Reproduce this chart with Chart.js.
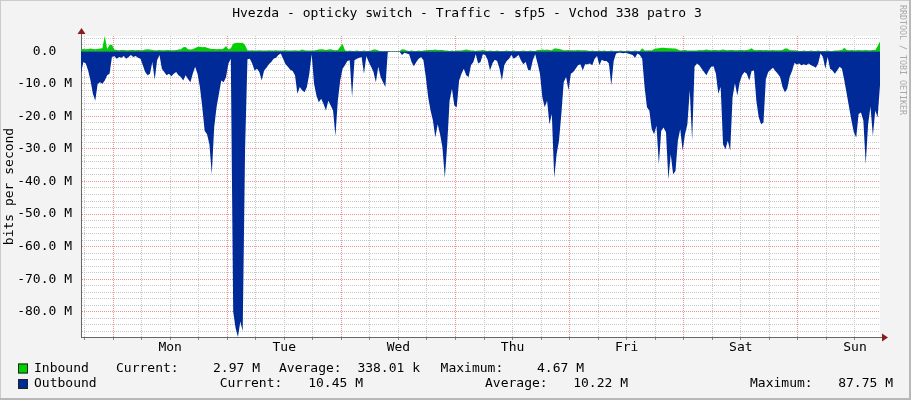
<!DOCTYPE html>
<html>
<head>
<meta charset="utf-8">
<script src="https://cdn.jsdelivr.net/npm/chart.js@4.4.0/dist/chart.umd.min.js"></script>
<style>
html,body{margin:0;padding:0;background:#F3F3F3;}
canvas{display:block;}
</style>
</head>
<body>
<canvas id="chart" width="911" height="400"></canvas>
<script>
// ---- data ----
const title = 'Hvezda - opticky switch - Traffic - sfp5 - Vchod 338 patro 3';
const days = ['Mon','Tue','Wed','Thu','Fri','Sat','Sun'];
const startHour = -6.74;   // hours from Monday 00:00
const stepHours = 0.5;     // 30 min samples
const spanHours = 168;

// Inbound, Mbit/s
const inboundM = [
 0.6,0.7,0.6,0.7,0.8,0.7,0.6,0.7,0.8,0.9,4.67,0.7,1.9,2.0,0.5,
 0.4,0.3,0.4,0.4,0.3,0.3,0.4,0.4,0.3,0.4,0.3,0.3,0.5,0.6,0.5,0.4,0.3,0.3,0.4,0.3,0.3,0.4,0.4,0.3,0.3,0.4,0.5,
 0.6,1.2,1.3,0.6,0.5,0.6,1.0,1.3,1.4,1.2,1.3,1.1,0.8,0.7,0.7,0.6,0.7,0.6,0.8,1.6,0.5,0.9,2.3,2.5,2.6,2.5,2.6,1.8,0.3,
 0.2,0.3,0.2,0.2,0.3,0.2,0.2,0.2,0.3,0.2,0.2,0.3,0.2,0.2,0.2,0.3,0.2,0.2,0.2,0.3,0.2,0.2,
 0.5,0.3,0.2,0.2,0.2,0.2,
 0.4,0.5,0.6,0.5,0.4,0.5,0.6,0.4,0.3,0.4,1.4,2.2,0.3,
 0.1,0.2,0.1,0.1,0.2,0.1,0.1,0.2,0.1,0.1,0.2,0.5,0.5,0.2,
 0.1,0.1,0.1,0.1,0.1,0.1,0.1,0.1,0.1,
 0.6,0.5,0.2,0.1,0.2,0.1,0.1,0.2,0.1,0.2,0.3,
 0.4,0.4,0.4,0.5,0.4,0.4,0.4,
 0.2,0.2,0.1,0.2,0.1,0.2,0.2,0.2,0.4,0.5,0.4,
 0.2,0.2,0.1,0.2,0.2,0.4,0.2,
 0.1,0.2,0.1,0.1,0.2,0.1,0.1,0.1,0.2,0.1,0.1,0.2,0.1,0.1,0.1,0.2,0.1,0.1,0.2,0.1,0.1,
 0.4,0.4,0.5,0.4,0.5,0.4,0.3,0.8,0.8,0.7,0.5,
 0.3,0.3,0.4,0.3,0.3,0.3,0.4,0.3,0.3,0.3,
 0.2,0.1,0.2,0.1,0.1,0.2,0.1,0.2,0.1,0.1,0.2,0.1,0.1,0.1,0.2,0.1,0.1,0.2,0.1,0.1,0.2,0.1,0.1,
 0.9,0.2,0.2,0.3,0.2,0.7,
 0.8,0.9,1.1,1.1,1.0,0.9,0.9,0.8,0.8,0.5,0.2,0.3,0.4,
 0.2,0.2,0.2,0.2,0.2,
 0.4,0.3,0.4,0.5,0.4,0.3,0.4,0.4,0.3,0.4,0.5,0.4,0.3,0.4,0.4,0.3,0.3,0.4,0.4,0.3,0.4,0.5,
 0.9,0.4,0.3,0.4,0.4,0.3,0.4,
 0.3,0.3,0.4,0.3,0.3,0.3,0.4,0.8,0.8,0.4,0.3,0.3,
 0.2,0.1,0.1,0.2,0.1,0.1,0.2,0.1,0.1,0.2,0.1,0.1,0.1,0.2,0.1,0.1,0.2,0.2,
 0.3,0.4,1.1,0.4,
 0.3,0.4,0.3,0.3,0.4,0.3,0.3,0.4,0.3,0.3,0.4,0.4,1.5,2.97
];

// Outbound, Mbit/s (drawn below zero)
const outboundM = [
 6.7,3.3,3.8,5.9,9.0,13.1,15.2,10,9.5,10,9,7.4,6.9,1.8,1.5,2.3,1.8,2,1.5,2.3,
 1.8,1.2,1.8,1.5,2,2.3,4.3,6.4,7.4,6.9,3.3,8.8,2.8,1.2,5.4,6.4,7.4,6.9,7.7,6.9,
 6.4,7.4,7.9,9,7.4,8.5,9.5,6.9,4.8,6.9,11,17.2,24.4,25.5,28.6,37.8,23.4,17.2,13.1,9,
 9.5,7.9,3.8,2.3,80,85,87.75,83,86,30,
 2.5,2.3,3.8,5.9,5.4,6.4,9,5.9,5.1,4,3.3,2.3,2,1.2,0.7,2.3,4,4.8,5.7,6.1,
 7.4,13.1,11,12,12.6,11,6.9,0.9,10,13.6,15.7,14.6,16.2,18.2,15.2,16.7,18.2,26,15.2,9,
 5.4,4.3,3,2.8,14.1,2.8,2.3,2,1.8,6.9,1.5,3.3,4.8,6.4,9.5,4.8,7.9,9.5,11,0.3,
 0.2,0.2,0.2,0.2,0.2,
 1.2,0.5,0.7,0.9,3.3,4.6,3.3,2.3,1.8,2.8,7.9,14.1,18.2,21.3,26.5,22.4,25.5,29.6,38.9,28.6,
 15.2,11.5,16.7,17.2,9,6.9,5.4,7.4,7.9,4.3,3.3,0.9,3.8,3.3,0.9,1.2,2.6,5.9,3.8,2.6,
 3,5.4,9,4.3,3,2.3,1.2,2.3,1.8,1.2,2.8,4,3.3,5.7,5.9,2.8,0.9,3.8,6.9,14.1,
 17.2,15.2,22.4,19.3,38.9,31.6,27.5,
 19.3,9.5,7.9,12,6.9,6.4,5.4,4.3,4,5.9,4,4,3.8,4.3,2.3,1.5,4.3,2.6,3,3,
 3.8,10.5,3,0.7,0.5,0.5,0.6,0.5,0.7,0.9,1.2,2,0.7,1.2,2.3,11,17.2,18.2,23.9,25.5,
 22.9,34.7,24.4,23.4,24.9,39.4,31.6,37.8,36.8,27.5,23.9,30.6,25.5,22.4,12,27.5,4.8,3.8,4.3,5.4,
 6.4,7.4,5.9,4.8,4.6,6.9,13.1,
 11,28.6,30.1,27.5,30.6,14.1,9.8,13.6,9.5,7.4,6.4,6.9,9,6.1,5.9,15.2,20.3,22.4,21.9,8.5,
 6.4,5.7,5.1,6.1,6.9,7.9,11,12.6,11.5,7.9,6.1,3.6,4,3.8,4.3,4,4.3,3.8,4.3,4.6,
 5.1,3.8,0.7,1.8,5.4,1.8,5.4,5.9,6.9,5.9,4.8,5.4,9,13.1,17.2,21.3,24.9,26.5,19.3,18.8,
 21.3,34.7,22.4,17,26,18.2,20.3,10.45
];

const yMin = -87.75, yMax = 4.67;
const yMajor = [0,-10,-20,-30,-40,-50,-60,-70,-80];
const yLabels = ['0.0  ','-10.0 M','-20.0 M','-30.0 M','-40.0 M','-50.0 M','-60.0 M','-70.0 M','-80.0 M'];
const legendRows = [
  {name:'Inbound',  color:'#00CF00', cur:'2.97 M',  avg:'338.01 k', max:'4.67 M'},
  {name:'Outbound', color:'#002A97', cur:'10.45 M', avg:'10.22 M',  max:'87.75 M'}
];

// ---- drawing ----
const MONO = '"DejaVu Sans Mono", monospace';
const minorGrid = '#C8C8C8', majorGrid = '#F09090';

const rrdDecor = {
  id:'rrdDecor',
  beforeDraw(chart){
    const {ctx, chartArea:a, width:w, height:h} = chart;
    ctx.save();
    ctx.fillStyle = '#F3F3F3'; ctx.fillRect(0,0,w,h);
    ctx.fillStyle = '#CBCBCB';
    ctx.fillRect(0,0,w,1); ctx.fillRect(0,0,1,h);
    ctx.fillStyle = '#B8B8B8';
    ctx.fillRect(w-2,0,2,h); ctx.fillRect(0,h-2,w,2);
    ctx.fillStyle = '#FFFFFF';
    ctx.fillRect(a.left, a.top, a.right-a.left, a.bottom-a.top);
    ctx.restore();
  },
  afterDraw(chart){
    const {ctx, chartArea:a} = chart;
    ctx.save();
    // title
    ctx.fillStyle = '#000';
    ctx.font = '13px ' + MONO;
    ctx.textAlign = 'center'; ctx.textBaseline = 'middle';
    ctx.fillText(title, 467, 14);
    // axis arrows
    ctx.strokeStyle = '#666'; ctx.lineWidth = 1;
    ctx.beginPath();
    ctx.moveTo(a.left+0.5, a.top); ctx.lineTo(a.left+0.5, a.top-3);
    ctx.moveTo(a.right, a.bottom+0.5); ctx.lineTo(a.right+3, a.bottom+0.5);
    ctx.stroke();
    ctx.fillStyle = '#8B1A1A';
    ctx.beginPath();
    ctx.moveTo(a.left-3.5, a.top-2); ctx.lineTo(a.left+4.5, a.top-2); ctx.lineTo(a.left+0.5, a.top-8); ctx.closePath();
    ctx.fill();
    ctx.beginPath();
    ctx.moveTo(a.right+2, a.bottom-3.5); ctx.lineTo(a.right+2, a.bottom+4.5); ctx.lineTo(a.right+8, a.bottom+0.5); ctx.closePath();
    ctx.fill();
    // legend
    const rowsY = [368.5, 384];
    const cols = [
      {cur:116, curV:260, avg:279, avgV:420, max:440.6, maxV:584},
      {cur:219.7, curV:363, avg:485, avgV:628, max:750, maxV:893}
    ];
    legendRows.forEach((r,k)=>{
      const y = rowsY[k], c = cols[k];
      ctx.fillStyle = r.color; ctx.fillRect(18, y-5, 10, 10);
      ctx.strokeStyle = '#222'; ctx.strokeRect(18.5, y-4.5, 9, 9);
      ctx.fillStyle = '#000'; ctx.textBaseline = 'middle';
      ctx.textAlign = 'left';
      ctx.fillText(r.name, 34, y);
      ctx.fillText('Current:', c.cur, y);
      ctx.fillText('Average:', c.avg, y);
      ctx.fillText('Maximum:', c.max, y);
      ctx.textAlign = 'right';
      ctx.fillText(r.cur, c.curV, y);
      ctx.fillText(r.avg, c.avgV, y);
      ctx.fillText(r.max, c.maxV, y);
    });
    // watermark
    ctx.translate(902, 5);
    ctx.rotate(Math.PI/2);
    ctx.font = '8.3px ' + MONO;
    ctx.fillStyle = '#A8A8A8';
    ctx.textAlign = 'left'; ctx.textBaseline = 'middle';
    ctx.fillText('RRDTOOL / TOBI OETIKER', 0, 0);
    ctx.restore();
  }
};

const toPoints = (arr, sign) => arr.map((v,i)=>({x:startHour + i*stepHours, y:sign*v}));

const xTicks = [];
for (let t = -6; t <= startHour + spanHours; t += 6) xTicks.push(t);
const yTicks = [];
for (let v = -86; v <= yMax; v += 2) yTicks.push(v);

new Chart(document.getElementById('chart').getContext('2d'), {
  type:'line',
  data:{
    datasets:[
      {label:'Inbound', data:toPoints(inboundM, 1), backgroundColor:'#00CF00', borderColor:'rgba(0,0,0,0)', borderWidth:0, fill:'origin'},
      {label:'Outbound', data:toPoints(outboundM, -1), backgroundColor:'#002A97', borderColor:'rgba(0,0,0,0)', borderWidth:0, fill:'origin'}
    ]
  },
  options:{
    responsive:false, animation:false, devicePixelRatio:1,
    layout:{padding:{top:36, right:31, left:0, bottom:0}},
    elements:{point:{radius:0}, line:{tension:0}},
    plugins:{legend:{display:false}, tooltip:{enabled:false}, title:{display:false}},
    scales:{
      x:{
        type:'linear', min:startHour, max:startHour + spanHours,
        afterBuildTicks:s=>{ s.ticks = xTicks.map(v=>({value:v})); },
        afterFit:s=>{ s.height = 63; },
        ticks:{autoSkip:false, maxRotation:0, padding:0, color:'#000', font:{family:MONO, size:13},
          callback:v=> (v % 24 === 12 ? days[(v-12)/24] : '')},
        grid:{color:c=> (c.tick && c.tick.value % 24 === 0 ? majorGrid : minorGrid), tickColor:'#888', tickLength:3, lineWidth:1},
        border:{color:'#666', width:1, dash:[1,1]}
      },
      y:{
        min:yMin, max:yMax,
        afterBuildTicks:s=>{ s.ticks = yTicks.map(v=>({value:v})); },
        afterFit:s=>{ s.width = 81; },
        ticks:{autoSkip:false, padding:9, color:'#000', font:{family:MONO, size:13},
          callback:v=>{ const k = yMajor.indexOf(v); return k >= 0 ? yLabels[k] : ''; }},
        grid:{color:c=> (c.tick && c.tick.value % 10 === 0 ? majorGrid : minorGrid), drawTicks:false, lineWidth:1},
        border:{color:'#666', width:1, dash:[1,1]},
        title:{display:true, text:'bits per second', color:'#000', font:{family:MONO, size:13}, padding:{top:2, bottom:0}}
      }
    }
  },
  plugins:[rrdDecor]
});
</script>
</body>
</html>
